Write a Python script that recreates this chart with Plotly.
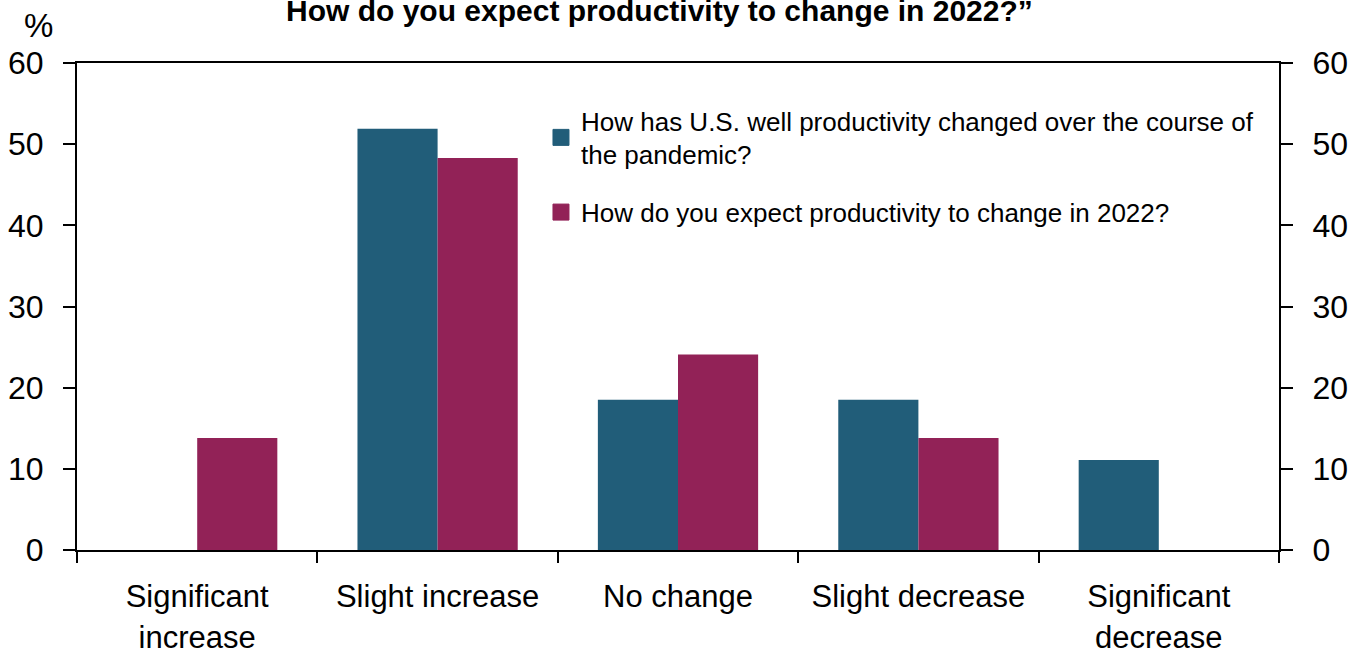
import plotly.graph_objects as go

categories = ["Significant<br>increase", "Slight increase", "No change", "Slight decrease", "Significant<br>decrease"]
well_productivity = [0, 51.9, 18.5, 18.5, 11.1]
expected_2022 = [13.8, 48.3, 24.1, 13.8, 0]
y_ticks = [0, 10, 20, 30, 40, 50, 60]
series_names = ["How has U.S. well productivity changed over the course of<br>the pandemic?",
                "How do you expect productivity to change in 2022?"]
title_text = "How do you expect productivity to change in 2022?”"

FONT = "Liberation Sans, Arial, sans-serif"
BLUE = "#215D79"
PLUM = "#922257"

fig = go.Figure()
fig.add_bar(x=categories, y=well_productivity, marker_color=BLUE, marker_line_width=0, showlegend=False)
fig.add_bar(x=categories, y=expected_2022, marker_color=PLUM, marker_line_width=0, showlegend=False)
# Legend keys (empty traces so the swatches can be the reference's size)
for name, colour, group in zip(series_names, [BLUE, PLUM], ["a", "b"]):
    fig.add_scatter(x=[None], y=[None], mode="markers", name=name, legendgroup=group,
                    marker=dict(symbol="square", size=16, color=colour, line=dict(width=1, color=colour)))
# Keeps the right-hand axis on the page
fig.add_scatter(x=categories, y=[None] * len(categories), yaxis="y2", showlegend=False, hoverinfo="skip")

axis_common = dict(range=[0, 60], tickvals=y_ticks, ticks="outside", ticklen=12, tickwidth=2,
                   tickcolor="black", linecolor="black", linewidth=2, showline=True, showgrid=False,
                   zeroline=False, automargin=False, ticklabelstandoff=13,
                   tickfont=dict(size=32, color="black", family=FONT))

fig.update_layout(
    width=1356, height=653,
    margin=dict(l=77, r=77, t=63, b=103),
    paper_bgcolor="white", plot_bgcolor="white",
    barmode="group", bargap=1/3, bargroupgap=0,
    font=dict(family=FONT, color="black"),
    xaxis=dict(type="category", tickson="boundaries", ticks="outside", ticklen=11, tickwidth=2,
               tickcolor="black", linecolor="black", linewidth=2, showline=True, mirror=True,
               showgrid=False, tickangle=0, automargin=False, ticklabelstandoff=18,
               tickfont=dict(size=31, color="black", family=FONT)),
    yaxis=dict(side="left", **axis_common),
    yaxis2=dict(side="right", overlaying="y", anchor="x", **axis_common),
    legend=dict(x=0.386, y=0.93, xanchor="left", yanchor="top", bgcolor="rgba(0,0,0,0)",
                font=dict(size=26, color="black", family=FONT), itemclick=False,
                traceorder="grouped", tracegroupgap=21),
    annotations=[
        dict(text="<b>" + title_text + "</b>", xref="paper", yref="paper", x=0.4846, y=1.0, xanchor="center",
             yanchor="bottom", yshift=34, showarrow=False, font=dict(size=30, family=FONT, color="black")),
        dict(text="%", xref="paper", yref="paper", x=-0.032, y=1.0, xanchor="center", yanchor="bottom",
             yshift=17, showarrow=False, font=dict(size=33, family=FONT, color="black")),
    ],
)
fig.write_html("out.html", config={"displayModeBar": False}, post_script="document.body.style.margin='0';")
